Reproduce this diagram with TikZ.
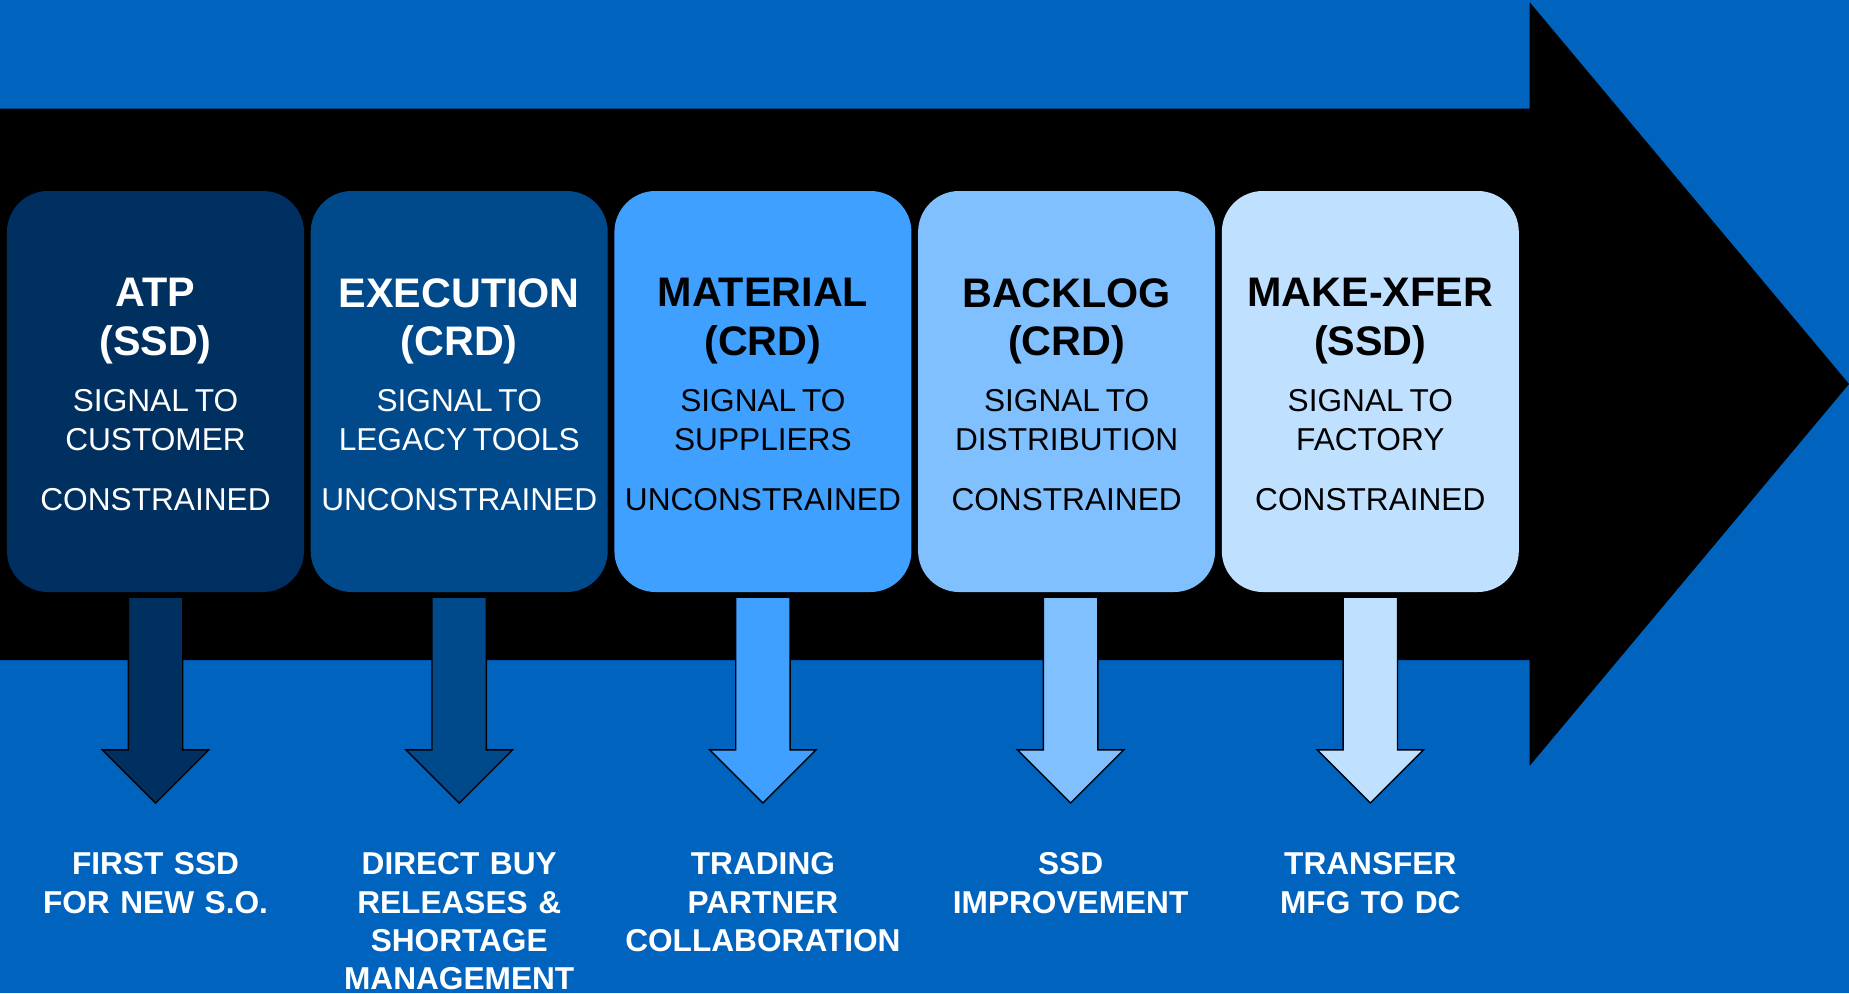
\documentclass[tikz,border=0pt]{standalone}
\usepackage{fontspec}
\setmainfont{Liberation Sans}
\usepackage{tikz}
\usetikzlibrary{positioning}
\usetikzlibrary{shapes,shapes.arrows}
\definecolor{bgblue}{RGB}{0,99,190}
\definecolor{atpblue}{RGB}{0,48,96}
\definecolor{execblue}{RGB}{0,74,140}
\definecolor{matblue}{RGB}{64,160,255}
\definecolor{backblue}{RGB}{128,192,255}
\definecolor{makeblue}{RGB}{192,224,255}
\newcommand{\stagetext}[5]{{\fontsize{23.5}{27.5}\selectfont\bfseries #1\par #2\par}\vspace{10pt}{\fontsize{18}{22.1}\selectfont #3\par #4\par}\vspace{11.9pt}{\fontsize{18}{22.1}\selectfont #5\par}\kern-0.12cm}
\tikzset{
  stage/.style = {rectangle, rounded corners=0.82cm, minimum width=5.94cm, minimum height=8.02cm, text width=5.9cm, inner sep=0pt, align=center},
  droparrow/.style = {single arrow, draw=black, line width=0.8pt, shape border rotate=270, single arrow head extend=0.52cm, minimum height=4.12cm, inner sep=0.53cm},
  outcome/.style = {text width=5.9cm, inner sep=0pt, align=center, text=white, font=\fontsize{18}{21.7}\selectfont\bfseries}
}

\begin{document}
\begin{tikzpicture}
	% background and big arrow
	\useasboundingbox (0,0) rectangle (36.98,-19.86);
	\fill [bgblue] (0,0) rectangle (36.98,-19.86);
	\fill [black] (0,-2.17) -- (30.59,-2.17) -- (30.59,-0.04) -- (36.98,-7.68)
		-- (30.59,-15.32) -- (30.59,-13.2) -- (0,-13.2) -- cycle;

	% stage boxes
	\node [stage, fill=atpblue, text=white] (atp) at (3.11,-7.83)
		{\stagetext{ATP}{(SSD)}{SIGNAL TO}{CUSTOMER}{CONSTRAINED}};
	\node [stage, fill=execblue, text=white, right=0.12cm of atp] (exec)
		{\stagetext{EXECUTION}{(CRD)}{SIGNAL TO}{LEGACY TOOLS}{UNCONSTRAINED}};
	\node [stage, fill=matblue, right=0.12cm of exec] (mat)
		{\stagetext{MATERIAL}{(CRD)}{SIGNAL TO}{SUPPLIERS}{UNCONSTRAINED}};
	\node [stage, fill=backblue, right=0.12cm of mat] (back)
		{\stagetext{BACKLOG}{(CRD)}{SIGNAL TO}{DISTRIBUTION}{CONSTRAINED}};
	\node [stage, fill=makeblue, right=0.12cm of back] (make)
		{\stagetext{MAKE-XFER}{(SSD)}{SIGNAL TO}{FACTORY}{CONSTRAINED}};

	% down arrows
	\node [droparrow, fill=atpblue, below=0.08cm of atp, anchor=tail] (a1) {};
	\node [droparrow, fill=execblue, below=0.08cm of exec, anchor=tail] (a2) {};
	\node [droparrow, fill=matblue, below=0.08cm of mat, anchor=tail] (a3) {};
	\node [droparrow, fill=backblue, below=0.08cm of back, anchor=tail, xshift=0.08cm] (a4) {};
	\node [droparrow, fill=makeblue, below=0.08cm of make, anchor=tail] (a5) {};

	% outcomes
	\node [outcome, below=0.97cm of a1.tip] (firstssd) {FIRST SSD\\FOR NEW S.O.};
	\node [outcome, below=0.97cm of a2.tip] (directbuy) {DIRECT BUY\\RELEASES \&\\SHORTAGE\\MANAGEMENT};
	\node [outcome, below=0.97cm of a3.tip] (trading) {TRADING\\PARTNER\\COLLABORATION};
	\node [outcome, below=0.97cm of a4.tip] (ssdimp) {SSD\\IMPROVEMENT};
	\node [outcome, below=0.97cm of a5.tip] (transfer) {TRANSFER\\MFG TO DC};
\end{tikzpicture}
\end{document}
